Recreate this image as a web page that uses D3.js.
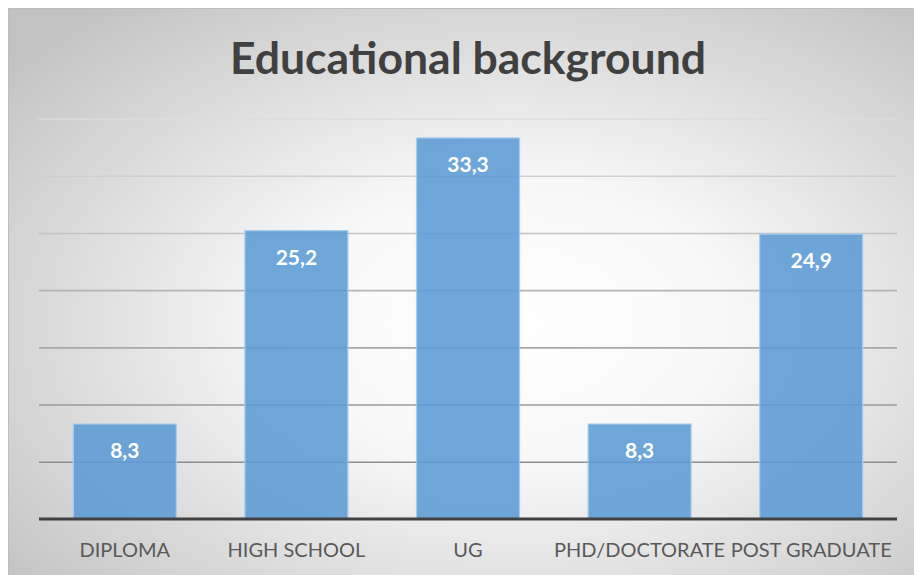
<!DOCTYPE html>
<html>
<head>
<meta charset="utf-8">
<script src="https://cdn.jsdelivr.net/npm/d3@7"></script>
<style>
  html, body { margin: 0; padding: 0; background: #fff; }
  svg { display: block; }
</style>
</head>
<body>
<svg id="chart" width="914" height="575"></svg>
<script>
// Educational background of respondents (%)
const categories = ["DIPLOMA", "HIGH SCHOOL", "UG", "PHD/DOCTORATE", "POST GRADUATE"];
const values = [8.3, 25.2, 33.3, 8.3, 24.9];
const valueLabels = ["8,3", "25,2", "33,3", "8,3", "24,9"];
const yTicks = [0, 5, 10, 15, 20, 25, 30, 35];
const title = "Educational background";

const W = 914, H = 575;
const svg = d3.select("#chart");
const defs = svg.append("defs");

// soft radial shading of the chart area
const bg = defs.append("radialGradient")
  .attr("id", "bgGrad")
  .attr("cx", "0.55").attr("cy", "0.55").attr("r", "0.72");
bg.append("stop").attr("offset", "0").attr("stop-color", "#ffffff");
bg.append("stop").attr("offset", "0.35").attr("stop-color", "#f7f7f7");
bg.append("stop").attr("offset", "1").attr("stop-color", "#c2c2c2");

svg.append("rect")
  .attr("x", 8.5).attr("y", 8.5)
  .attr("width", W).attr("height", H)
  .attr("fill", "url(#bgGrad)")
  .attr("stroke", "#bdbdbd").attr("stroke-width", 1);

const plot = { left: 39, right: 897, top: 118.5, bottom: 519 };

const x = d3.scaleBand()
  .domain(categories)
  .range([plot.left, plot.right])
  .paddingInner(0.4).paddingOuter(0.2);

const y = d3.scaleLinear()
  .domain([0, 35])
  .range([plot.bottom, plot.top]);

// gridlines, fading from light at the top to darker near the axis
const gridColor = d3.scaleLinear().domain([35, 5]).range(["#dcdcdc", "#8e8e8e"]);
const grid = svg.append("g")
  .attr("transform", `translate(${plot.left},0)`)
  .call(d3.axisLeft(y).tickValues(yTicks.filter(t => t > 0))
    .tickSize(-(plot.right - plot.left)).tickFormat(""));
grid.select(".domain").remove();
grid.selectAll(".tick line")
  .attr("stroke", d => gridColor(d))
  .attr("stroke-width", 1.6);

// bars
svg.append("g").selectAll("rect")
  .data(values)
  .join("rect")
  .attr("x", (d, i) => x(categories[i]))
  .attr("y", d => y(d))
  .attr("width", x.bandwidth())
  .attr("height", d => y(0) - y(d))
  .attr("fill", "#5b9bd5")
  .attr("fill-opacity", 0.88)
  .attr("stroke", "#a8cbec")
  .attr("stroke-width", 1.2);

// value labels inside the top of each bar
svg.append("g").selectAll("text")
  .data(values)
  .join("text")
  .attr("x", (d, i) => x(categories[i]) + x.bandwidth() / 2)
  .attr("y", d => y(d) + 34)
  .attr("text-anchor", "middle")
  .attr("font-family", "Lato, 'Open Sans', sans-serif")
  .attr("font-weight", "bold")
  .attr("font-size", 21)
  .attr("fill", "#ffffff")
  .text((d, i) => valueLabels[i]);

// category axis
const xAxis = svg.append("g")
  .attr("transform", `translate(0,${plot.bottom})`)
  .call(d3.axisBottom(x).tickSize(0).tickPadding(0));
xAxis.select(".domain").remove();
xAxis.selectAll(".tick text")
  .attr("y", 38)
  .attr("dy", 0)
  .attr("font-family", "Lato, 'Open Sans', sans-serif")
  .attr("font-size", 20)
  .attr("fill", "#595959");

svg.append("line")
  .attr("x1", plot.left).attr("x2", plot.right)
  .attr("y1", plot.bottom).attr("y2", plot.bottom)
  .attr("stroke", "#404040").attr("stroke-width", 3);

// title
svg.append("text")
  .attr("x", 468).attr("y", 74)
  .attr("text-anchor", "middle")
  .attr("font-family", "Lato, 'Open Sans', sans-serif")
  .attr("font-weight", "bold")
  .attr("font-size", 44.5)
  .attr("fill", "#404040")
  .text(title);
</script>
</body>
</html>
